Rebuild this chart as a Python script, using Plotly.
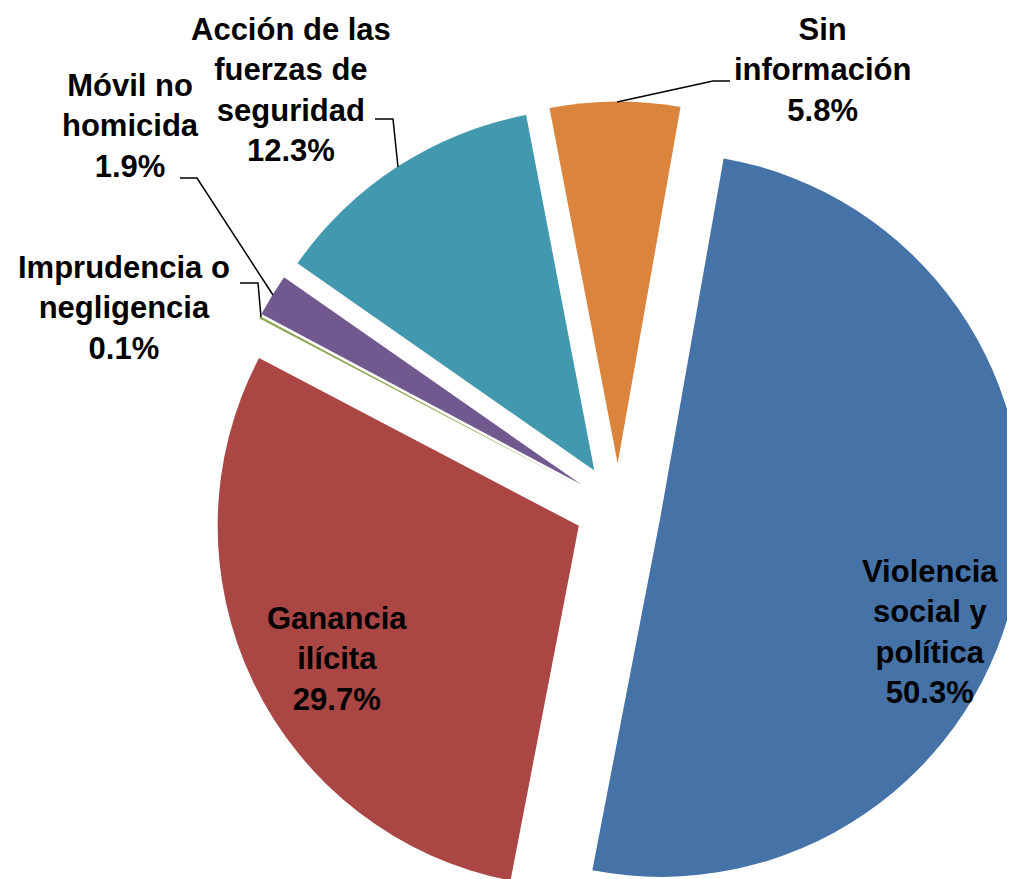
import math
import plotly.graph_objects as go

# ---- data ----
categories = [
    "Violencia social y política",
    "Ganancia ilícita",
    "Imprudencia o negligencia",
    "Móvil no homicida",
    "Acción de las fuerzas de seguridad",
    "Sin información",
]
values = [50.3, 29.7, 0.1, 1.9, 12.3, 5.8]
label_texts = [
    "Violencia<br>social y<br>política<br>50.3%",
    "Ganancia<br>ilícita<br>29.7%",
    "Imprudencia o<br>negligencia<br>0.1%",
    "Móvil no<br>homicida<br>1.9%",
    "Acción de las<br>fuerzas de<br>seguridad<br>12.3%",
    "Sin<br>información<br>5.8%",
]
colors = ["#4572A7", "#AA4643", "#89A54E", "#71588F", "#4198AF", "#DB843D"]

# ---- layout constants (page pixels) ----
W, H = 1015, 879
PAGE_OFF = 8          # default body margin of the html page
CX, CY, R = 618, 507, 362
PULL_PX = 43.5
ROTATION = 10

label_pos = [(930, 632), (337, 659), (124, 308), (130, 126), (291, 90), (822, 70)]
leaders = [
    None,
    None,
    [(240, 283), (258, 283), (261, 317)],
    [(180, 178), (197, 178), (273, 295)],
    [(375, 119), (393, 119), (398, 167)],
    [(730, 81), (713, 81), (617, 102)],
]


def fx(px):
    return (px - PAGE_OFF) / W


def fy(py):
    return 1 - (py - PAGE_OFF) / H


fig = go.Figure()
total = sum(values)
start = ROTATION
for i, v in enumerate(values):
    span = v / total * 360.0
    mid = math.radians(start + span / 2)
    cx = CX - PAGE_OFF + PULL_PX * math.sin(mid)
    cy = CY - PAGE_OFF - PULL_PX * math.cos(mid)
    r = min(R, cx, W - cx, cy, H - cy)
    dom_x = [(cx - r) / W, (cx + r) / W]
    dom_y = [1 - (cy + r) / H, 1 - (cy - r) / H]
    slice_colors = [colors[j] if j == i else "rgba(0,0,0,0)" for j in range(len(values))]
    fig.add_trace(go.Pie(
        labels=categories,
        values=values,
        sort=False,
        direction="clockwise",
        rotation=ROTATION,
        marker=dict(colors=slice_colors, line=dict(width=0)),
        textinfo="none",
        hoverinfo="skip",
        domain=dict(x=dom_x, y=dom_y),
        showlegend=False,
    ))
    start += span

annotations = []
for txt, (px, py) in zip(label_texts, label_pos):
    annotations.append(dict(
        text=txt, x=fx(px), y=fy(py), xref="paper", yref="paper",
        xanchor="center", yanchor="middle", showarrow=False, align="center",
        font=dict(family="Liberation Sans", size=31, color="black", weight="bold"),
    ))

shapes = []
for pts in leaders:
    if not pts:
        continue
    path = "M " + " L ".join(f"{fx(x):.5f},{fy(y):.5f}" for x, y in pts)
    shapes.append(dict(type="path", path=path, xref="paper", yref="paper",
                       line=dict(color="black", width=1.5)))

fig.update_layout(
    width=W, height=H,
    margin=dict(l=0, r=0, t=0, b=0),
    paper_bgcolor="white", plot_bgcolor="white",
    annotations=annotations, shapes=shapes,
    showlegend=False,
)
fig.write_html("out.html")
